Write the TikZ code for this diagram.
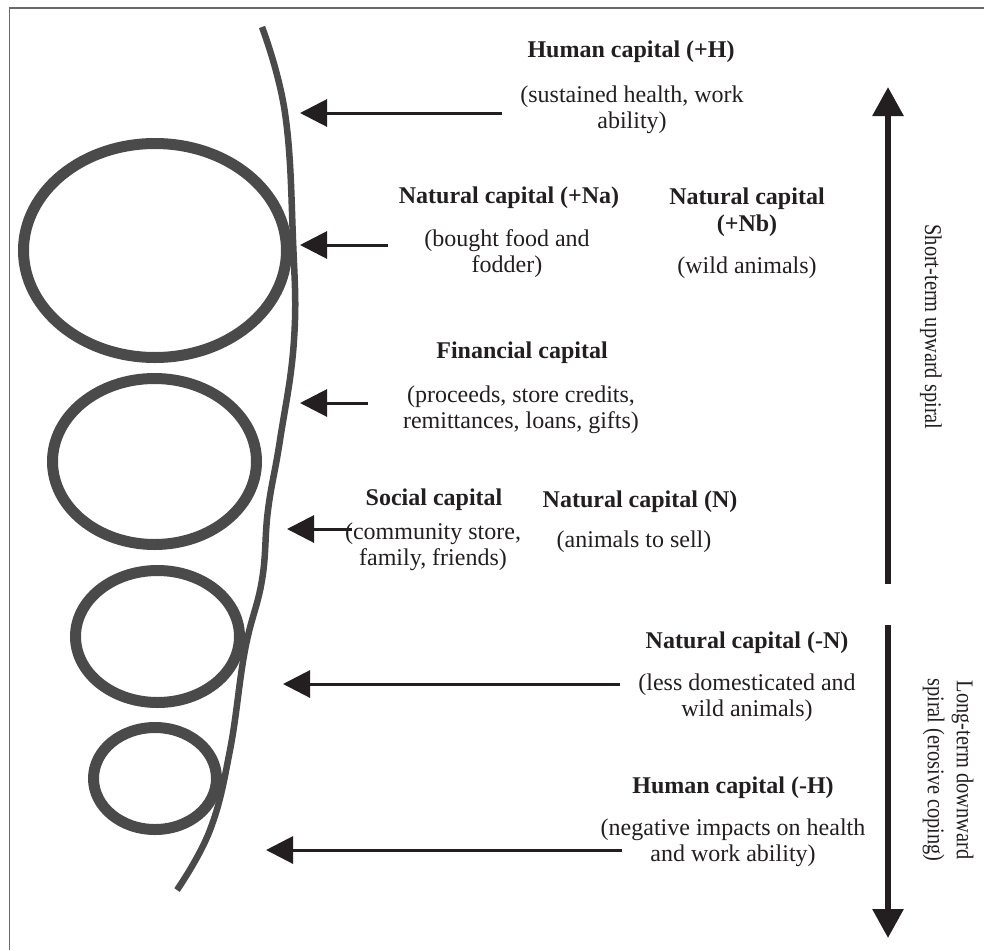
\documentclass[tikz,border=0pt]{standalone}
\usepackage{fontspec}
\setmainfont{Liberation Serif}
\newfontfamily\condfont[FakeStretch=0.85]{Liberation Serif}
\usetikzlibrary{arrows.meta}
\definecolor{coil}{HTML}{4A4A4A}
\definecolor{ink}{HTML}{231F20}
\definecolor{frame}{HTML}{6A6A6A}
\tikzset{
  loopring/.style={draw=coil, line width=11pt},
  strand/.style={draw=coil, line width=6.5pt},
  inarrow/.style={draw=ink, line width=3pt, -{Triangle[length=27pt,width=27pt]}},
  sidearrow/.style={draw=ink, line width=6pt, -{Triangle[length=29pt,width=30pt]}},
  title/.style={font=\fontsize{24}{27}\selectfont\bfseries, align=center, inner sep=0pt, text=ink},
  desc/.style={font=\fontsize{24}{26}\selectfont, align=center, inner sep=0pt, text=ink},
  side/.style={font=\fontsize{24}{29}\selectfont\condfont, align=center, inner sep=0pt, text=ink, rotate=-90}
}
\begin{document}
\begin{tikzpicture}[x=1pt,y=-1pt]
\useasboundingbox (0,0) rectangle (984,950);
\fill[white] (0,0) rectangle (984,950);
\draw[frame, line width=1.5pt] (9.5,950) -- (9.5,8) -- (984,8);

% coil loops
\draw[loopring] (155,250.5) ellipse [x radius=131.5, y radius=107];
\draw[loopring] (154.5,461.5) ellipse [x radius=102, y radius=83];
\draw[loopring] (157.5,636.5) ellipse [x radius=82, y radius=66];
\draw[loopring] (155,778.5) ellipse [x radius=61.5, y radius=51];
% thin strand
\draw[strand] plot[smooth, tension=0.7] coordinates {(262,27) (285,113) (293,240) (294,340) (280,440) (268,510) (262,580) (245,650) (230,750) (210,830) (177,890)};

% left arrows
\coordinate (a1s) at (502,113); \coordinate (a1e) at (300,113);
\coordinate (a2s) at (388,245); \coordinate (a2e) at (300,245);
\coordinate (a3s) at (368,403); \coordinate (a3e) at (300,403);
\coordinate (a4s) at (352,529); \coordinate (a4e) at (287,529);
\coordinate (a5s) at (620,684); \coordinate (a5e) at (283,684);
\coordinate (a6s) at (622,850); \coordinate (a6e) at (266,850);
\foreach \i in {1,...,6} \draw[inarrow] (a\i s) -- (a\i e);

% side arrows
\coordinate (u1) at (888,584); \coordinate (u2) at (888,87);
\coordinate (l1) at (888,625); \coordinate (l2) at (888,938);
\draw[sidearrow] (u1) -- (u2);
\draw[sidearrow] (l1) -- (l2);

% texts
\node[title] (t1) at (631,52) {Human capital (+H)};
\node[desc] (d1) at (632,110) {(sustained health, work\\ability)};
\node[title] (t2) at (509,198) {Natural capital (+Na)};
\node[desc] (d2) at (507,254) {(bought food and\\fodder)};
\node[title] (t3) at (747,212) {Natural capital\\(+Nb)};
\node[desc] (d3) at (747,268) {(wild animals)};
\node[title] (t4) at (522,353) {Financial capital};
\node[desc] (d4) at (521,410) {(proceeds, store credits,\\remittances, loans, gifts)};
\node[title] (t5) at (434,500) {Social capital};
\node[desc] (d5) at (433,547) {(community store,\\family, friends)};
\node[title] (t6) at (640,502) {Natural capital (N)};
\node[desc] (d6) at (634,542) {(animals to sell)};
\node[title] (t7) at (747,643) {Natural capital (-N)};
\node[desc] (d7) at (747,698) {(less domesticated and\\wild animals)};
\node[title] (t8) at (733,788) {Human capital (-H)};
\node[desc] (d8) at (733,843) {(negative impacts on health\\and work ability)};

\node[side] (s1) at (931,327) {Short-term upward spiral};
\node[side] (s2) at (948,770) {Long-term downward\\spiral (erosive coping)};
\end{tikzpicture}
\end{document}
